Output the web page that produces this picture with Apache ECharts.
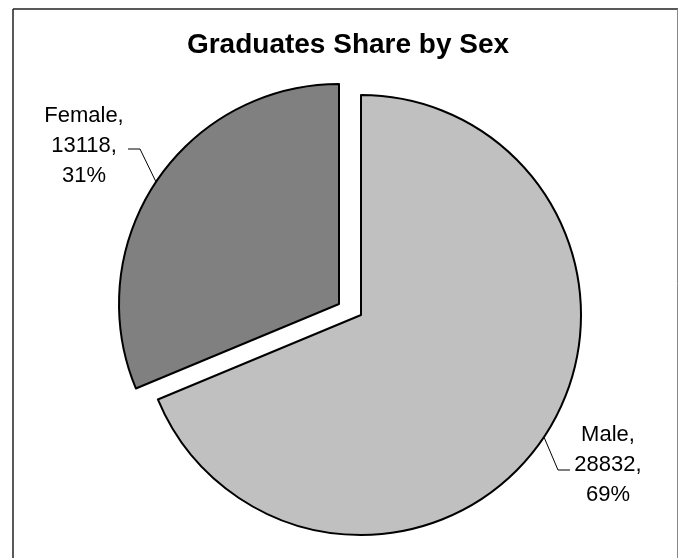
<!DOCTYPE html>
<html><head><meta charset="utf-8">
<script src="https://cdn.jsdelivr.net/npm/echarts@6/dist/echarts.min.js"></script>
<style>html,body{margin:0;padding:0;background:#fff}#c{width:679px;height:558px}</style>
</head><body><div id="c"></div>
<script>
const categories = ['Male', 'Female'];
const graduates = [28832, 13118];
const sliceColors = ['#c0c0c0', '#808080'];
const titleText = 'Graduates Share by Sex';

const FONT = '"Liberation Sans", Arial, sans-serif';
const R = 220;
const pies = [
  { center: [361, 315], label: [608, 465], elbow: [558, 470], end: [570, 470] },
  { center: [339, 304], label: [84, 146], elbow: [140, 149], end: [128, 149] }
];
const total = graduates.reduce((a, b) => a + b, 0);
function midAngle(i) {
  let s = 0;
  for (let k = 0; k < i; k++) s += graduates[k];
  return (s + graduates[i] / 2) / total * 2 * Math.PI;
}

function makeSeries(idx) {
  const p = pies[idx];
  return {
    type: 'pie', center: p.center, radius: R, startAngle: 90, clockwise: true,
    avoidLabelOverlap: false, percentPrecision: 0, silent: true, animation: false,
    emphasis: { disabled: true },
    data: categories.map((name, i) => ({
      name, value: graduates[i],
      itemStyle: i === idx
        ? { color: sliceColors[i], borderColor: '#000', borderWidth: 2 }
        : { color: 'rgba(0,0,0,0)', borderWidth: 0 },
      label: { show: i === idx },
      labelLine: { show: i === idx }
    })),
    label: {
      position: 'outside', formatter: '{b},\n{c},\n{d}%',
      fontFamily: FONT, fontSize: 22, lineHeight: 30, color: '#000'
    },
    labelLine: { show: true, lineStyle: { color: '#000', width: 1 } },
    labelLayout: function (params) {
      if (params.dataIndex !== idx) return {};
      const a = midAngle(idx);
      const sx = p.center[0] + R * Math.sin(a);
      const sy = p.center[1] - R * Math.cos(a);
      return {
        x: p.label[0], y: p.label[1], align: 'center', verticalAlign: 'middle',
        labelLinePoints: [[sx, sy], p.elbow, p.end]
      };
    }
  };
}

const chart = echarts.init(document.getElementById('c'), null, { renderer: 'canvas' });
chart.setOption({
  backgroundColor: '#fff',
  animation: false,
  title: {
    text: titleText, left: 343, top: 26, textAlign: 'center',
    textStyle: { fontFamily: FONT, fontSize: 28, fontWeight: 'bold', color: '#000' }
  },
  graphic: [
    { type: 'line', shape: { x1: 13, y1: 9, x2: 678, y2: 9 }, style: { stroke: '#222', lineWidth: 1.5 } },
    { type: 'line', shape: { x1: 13, y1: 9, x2: 13, y2: 558 }, style: { stroke: '#222', lineWidth: 1.5 } },
    { type: 'line', shape: { x1: 677.5, y1: 9, x2: 677.5, y2: 558 }, style: { stroke: '#888', lineWidth: 1 } }
  ],
  series: [makeSeries(0), makeSeries(1)]
});
</script>
</body></html>
